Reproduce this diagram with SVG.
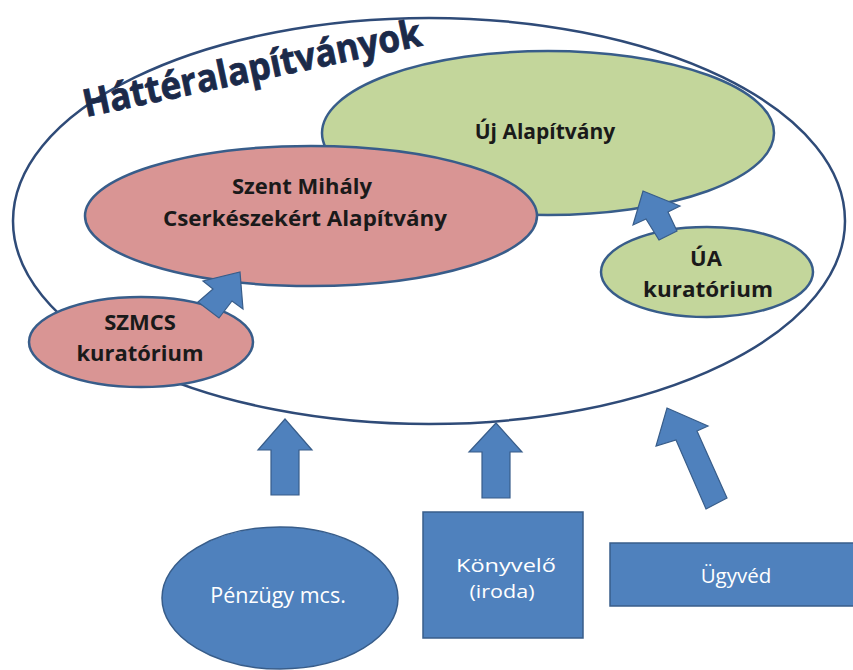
<svg xmlns="http://www.w3.org/2000/svg" width="853" height="670" viewBox="0 0 853 670">
<style>
.lbl{font-family:"Open Sans","Liberation Sans",sans-serif;font-weight:bold;fill:#1a1a1a;text-anchor:middle}
.wl{font-family:"Open Sans","Liberation Sans",sans-serif;fill:#ffffff;text-anchor:middle}
.green{fill:#c3d69b;stroke:#385d8a;stroke-width:2.5}
.pink{fill:#d99594;stroke:#385d8a;stroke-width:2.5}
.blue{fill:#4f81bd;stroke:#385d8a;stroke-width:1.5}
.arr{fill:#4f81bd;stroke:#385d8a;stroke-width:1.2}
</style>
<rect width="853" height="670" fill="#ffffff"/>
<g id="hatter">
<ellipse cx="429" cy="221" rx="416" ry="203" fill="none" stroke="#2f4b78" stroke-width="2.5"/>
<text x="0" y="0" transform="translate(86,117) rotate(-12)" font-family="'Open Sans','Liberation Sans',sans-serif" font-weight="bold" font-size="38" fill="#1b2a4a" stroke="#1b2a4a" stroke-width="0.8" textLength="345" lengthAdjust="spacingAndGlyphs">Háttéralapítványok</text>
</g>
<g id="uj">
<ellipse class="green" cx="548" cy="133" rx="226" ry="82"/>
<text class="lbl" x="545" y="139" font-size="21">Új Alapítvány</text>
</g>
<g id="szent">
<ellipse class="pink" cx="311" cy="216" rx="226" ry="70"/>
<text class="lbl" x="302" y="194" font-size="22">Szent Mihály</text>
<text class="lbl" x="305" y="226" font-size="22" textLength="284" lengthAdjust="spacingAndGlyphs">Cserkészekért Alapítvány</text>
</g>
<g id="szmcs">
<ellipse class="pink" cx="141" cy="342" rx="112" ry="45"/>
<text class="lbl" x="140" y="330" font-size="22">SZMCS</text>
<text class="lbl" x="140" y="361" font-size="22" textLength="127" lengthAdjust="spacingAndGlyphs">kuratórium</text>
</g>
<g id="ua">
<ellipse class="green" cx="707" cy="272" rx="106" ry="45"/>
<text class="lbl" x="706" y="266" font-size="22">ÚA</text>
<text class="lbl" x="708" y="297" font-size="22" textLength="130" lengthAdjust="spacingAndGlyphs">kuratórium</text>
</g>
<g id="penzugy">
<ellipse class="blue" cx="280" cy="598" rx="118" ry="71"/>
<text class="wl" x="278" y="603" font-size="21.5">Pénzügy mcs.</text>
</g>
<g id="konyvelo">
<rect class="blue" x="423" y="512" width="160" height="126"/>
<text class="wl" x="506" y="572" font-size="19" textLength="100" lengthAdjust="spacingAndGlyphs">Könyvelő</text>
<text class="wl" x="502" y="598" font-size="19" textLength="65" lengthAdjust="spacingAndGlyphs">(iroda)</text>
</g>
<g id="ugyved">
<rect class="blue" x="610" y="543" width="250" height="63"/>
<text class="wl" x="736" y="583" font-size="20.5">Ügyvéd</text>
</g>
<g id="connectors">
<polygon class="arr" points="198,302 219,318 232,301 243,309 240,272 203,281 213,289"/>
<polygon class="arr" points="659,240 677,231 668,212 680,206 643,191 633,225 646,219"/>
<polygon class="arr" points="271,495 299,495 299,450 312,450 285,419 258,450 271,450"/>
<polygon class="arr" points="482,498 510,498 510,452 522,452 496,423 469,452 482,452"/>
<polygon class="arr" points="706,509 727,498 697,431 708,426 667,408 656,446 676,440"/>
</g>
</svg>
